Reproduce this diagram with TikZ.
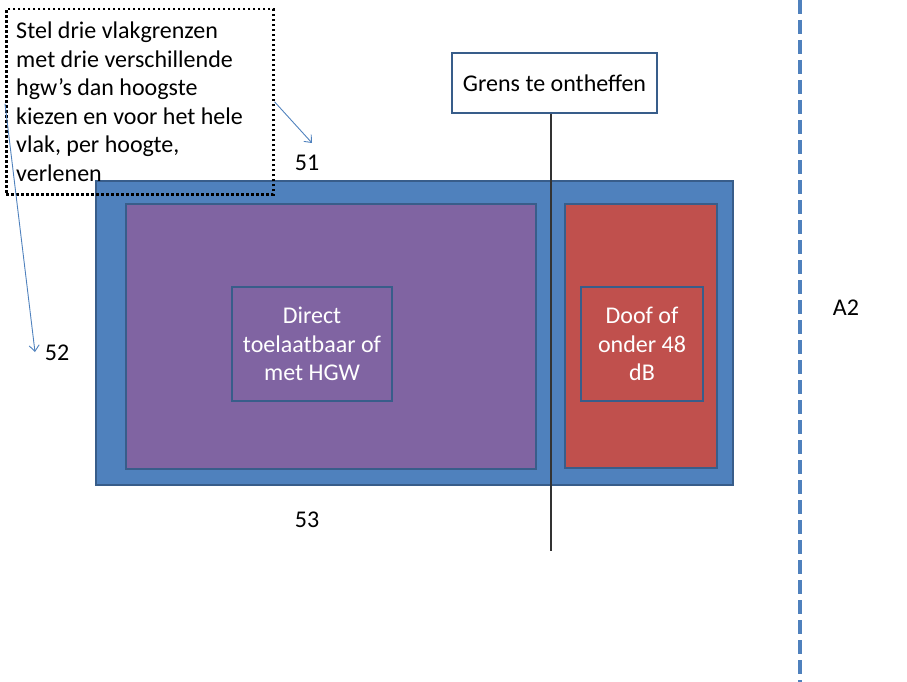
\documentclass[tikz,border=0pt]{standalone}
\usepackage{fontspec}
\setmainfont{Carlito}
\usetikzlibrary{arrows.meta,positioning}
\definecolor{vlakblauw}{HTML}{4F81BD}
\definecolor{vlakpaars}{HTML}{8064A2}
\definecolor{vlakrood}{HTML}{C0504D}
\definecolor{vlakrand}{HTML}{385D8A}

\begin{document}
\begin{tikzpicture}[x=1pt,y=-1pt,font=\fontsize{24}{28.6}\selectfont,
  >={Straight Barb[length=6pt,width=10pt]},
  vlak/.style={draw=vlakrand,line width=2pt,inner sep=0pt},
  tekst/.style={text=white,align=center,inner sep=0pt},
  pijl/.style={->,draw=vlakblauw,line width=0.9pt}]
  \useasboundingbox (0,0) rectangle (907,682);
  % vlakken
  \node[vlak,fill=vlakblauw,minimum width=637pt,minimum height=304pt] (A) at (414.5,333) {};
  \node[vlak,fill=vlakpaars,minimum width=410pt,minimum height=265pt] (B) at (331,336.5) {};
  \node[vlak,fill=vlakrood,minimum width=152pt,minimum height=264pt] (C) at (641,336) {};
  \node[vlak,tekst,fill=vlakpaars,minimum width=160pt,minimum height=114pt] (D) at (312,344) {Direct\\toelaatbaar of\\met HGW};
  \node[vlak,tekst,fill=vlakrood,minimum width=122pt,minimum height=114pt] (E) at (642,344) {Doof of\\onder 48\\dB};
  % grens
  \node[draw=vlakrand,line width=1.5pt,fill=white,minimum width=205pt,minimum height=60pt] (G) at (554.5,83) {Grens te ontheffen};
  \coordinate (L) at (551,551);
  \draw[line width=1.2pt,black!80] (G.south -| L) -- (L);
  % opmerking
  \node[draw,dash pattern=on 2.5pt off 2.5pt,line width=2.5pt,anchor=north west,
        minimum width=267pt,minimum height=185pt,text width=247pt,inner xsep=10pt,align=flush left] (T) at (5,8)
        {Stel drie vlakgrenzen\\met drie verschillende\\hgw’s dan hoogste\\kiezen en voor het hele\\vlak, per hoogte,\\verlenen};
  \node (n51) at (307,163) {51};
  \node (n52) at (57,353) {52};
  \node (n53) at (307,520) {53};
  \node (nA2) at (846,308) {A2};
  \coordinate (p51) at (312,143);
  \coordinate (p52) at (35,352);
  \draw[pijl] (T.east) -- (p51);
  \draw[pijl] ([yshift=-2pt]T.west) -- (p52);
  % scheiding
  \coordinate (S1) at (800,0);
  \coordinate (S2) at (800,682);
  \draw[vlakblauw,line width=4.5pt,dash pattern=on 14pt off 6pt] (S1) -- (S2);
\end{tikzpicture}
\end{document}
